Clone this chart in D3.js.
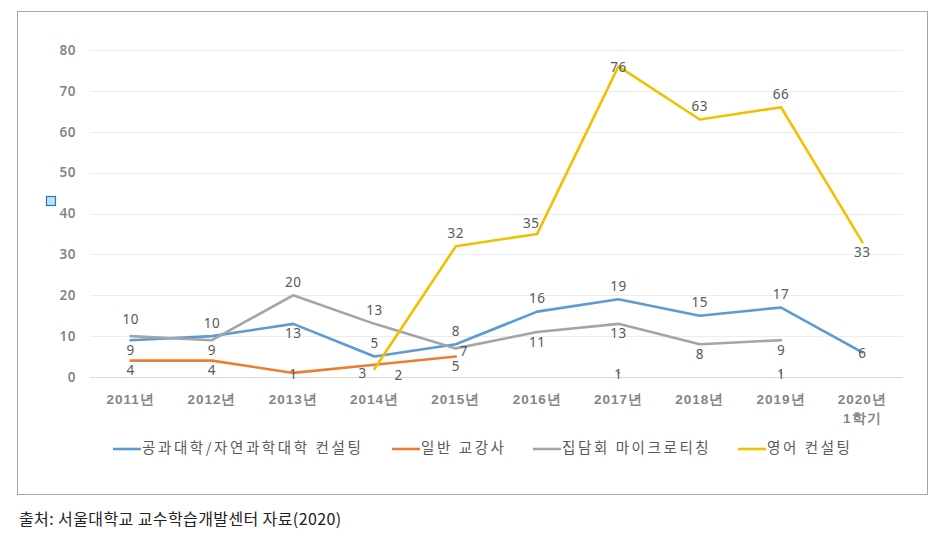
<!DOCTYPE html>
<html><head><meta charset="utf-8">
<script src="https://cdn.jsdelivr.net/npm/d3@7"></script>
<style>
html,body{margin:0;padding:0;background:#fff;}
svg{display:block;font-family:"Noto Sans CJK KR","Noto Sans",sans-serif;}
</style></head><body>
<svg id="c" width="941" height="540"></svg>
<script>
const categories = ["2011년","2012년","2013년","2014년","2015년","2016년","2017년","2018년","2019년","2020년\n1학기"];
const seriesNames = ["공과대학/자연과학대학 컨설팅","일반 교강사","집담회 마이크로티칭","영어 컨설팅"];
const engSci   = [9,10,13,5,8,16,19,15,17,6];
const lecturer = [4,4,1,3,5,null,1,null,1,null];
const microTeach = [10,9,20,13,7,11,13,8,9,null];
const english  = [null,null,null,2,32,35,76,63,66,33];
const yTicks = [0,10,20,30,40,50,60,70,80];
const source = "출처: 서울대학교 교수학습개발센터 자료(2020)";

// label placement codes (layout only)
const labelPlace = [
  ["b","a","b","a","a","a","a","a","a","c"],
  ["b","b","c","lb","b","","c","","c",""],
  ["a2","b","a","a","r","b","b","b","b",""],
  ["","","","rb","a","al","c","a","a","b"]
];
const placeOff = {a:[0,-12],a2:[0,-16],b:[0,11],c:[0,2],r:[8,4],lb:[-12,10],rb:[24,8],al:[-6,-10]};
const colors = ["#5b9bd5","#ed7d31","#a5a5a5","#f2c000"];
const data = [engSci, lecturer, microTeach, english];

const svg = d3.select("#c");
svg.append("rect").attr("x",17.5).attr("y",11.5).attr("width",910).attr("height",483)
  .attr("fill","none").attr("stroke","#a6a6a6").attr("stroke-width",1);

const x = d3.scaleBand().domain(categories).range([90,903]).padding(0);
const y = d3.scaleLinear().domain([0,80]).range([377,50]);
const cx = c => x(c) + x.bandwidth()/2;

const grid = svg.append("g");
grid.selectAll("line").data(yTicks).join("line")
  .attr("x1",90).attr("x2",903)
  .attr("y1",d=>Math.round(y(d))+0.5).attr("y2",d=>Math.round(y(d))+0.5)
  .attr("stroke",d=>d===0?"#d9d9d9":"#ececec").attr("stroke-width",1);

const yAxis = d3.axisLeft(y).tickValues(yTicks).tickSize(0).tickPadding(0);
const ya = svg.append("g").attr("transform","translate(76,0)").call(yAxis);
ya.select(".domain").remove();
ya.selectAll("text").attr("font-size",13.5).attr("fill","#858585").attr("font-weight",600)
  .attr("letter-spacing",0.5)
  .attr("font-family","'Noto Sans','Noto Sans CJK KR',sans-serif");

const xAxis = d3.axisBottom(x).tickSize(0).tickPadding(0).tickFormat(()=> "");
const xa = svg.append("g").attr("transform","translate(0,377)").call(xAxis);
xa.select(".domain").remove();
xa.selectAll(".tick").each(function(d){
  const parts = d.split("\n");
  const t = d3.select(this).select("text").attr("font-size",13.5).attr("fill","#858585")
    .attr("font-weight",600).attr("letter-spacing",1).attr("y",0).attr("dy",null);
  parts.forEach((p,i)=>{
    t.append("tspan").attr("x",0).attr("y",27+i*19).text(p);
  });
});

const line = d3.line().defined(d=>d.v!=null).x(d=>cx(d.c)).y(d=>y(d.v));
data.forEach((arr,si)=>{
  const pts = arr.map((v,i)=>({c:categories[i],v}));
  svg.append("path").datum(pts).attr("d",line)
    .attr("fill","none").attr("stroke",colors[si]).attr("stroke-width",2.6)
    .attr("stroke-linejoin","round").attr("stroke-linecap","round");
});

data.forEach((arr,si)=>{
  arr.forEach((v,i)=>{
    if(v==null) return;
    const p = labelPlace[si][i] || "a";
    const o = placeOff[p];
    svg.append("text").attr("x",cx(categories[i])+o[0]).attr("y",y(v)+o[1])
      .attr("text-anchor","middle").attr("dominant-baseline","middle")
      .attr("font-size",13.5).attr("fill","#595959").attr("letter-spacing",0.5)
      .attr("font-family","'Noto Sans','Noto Sans CJK KR',sans-serif").text(v);
  });
});

const legX = [113,392,533,738];
seriesNames.forEach((n,i)=>{
  const g = svg.append("g").attr("transform",`translate(${legX[i]},449)`);
  g.append("line").attr("x1",0).attr("x2",28).attr("y1",0).attr("y2",0)
    .attr("stroke",colors[i]).attr("stroke-width",2.6);
  g.append("text").attr("x",29).attr("y",0).attr("dominant-baseline","middle")
    .attr("font-size",14.5).attr("fill","#595959").attr("letter-spacing",2.6).text(n);
});

svg.append("rect").attr("x",46.5).attr("y",196.5).attr("width",9).attr("height",9)
  .attr("fill","#bde3f7").attr("stroke","#2e75b6").attr("stroke-width",1.2);

svg.append("text").attr("x",19).attr("y",521).attr("dominant-baseline","middle")
  .attr("font-size",16).attr("fill","#222").attr("letter-spacing",0.4).text(source);
</script>
</body></html>
